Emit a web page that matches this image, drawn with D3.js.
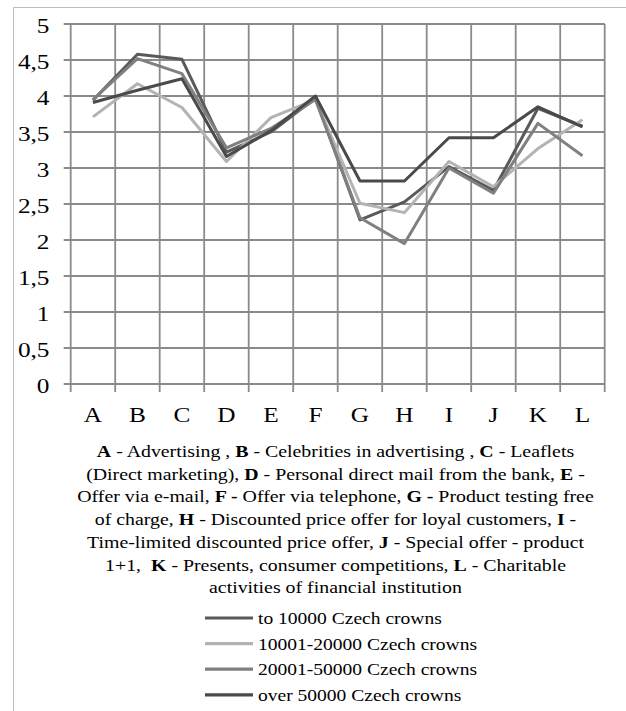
<!DOCTYPE html>
<html>
<head>
<meta charset="utf-8">
<script src="https://cdn.jsdelivr.net/npm/d3@7/dist/d3.min.js"></script>
<style>
  html, body { margin: 0; padding: 0; background: #fff; }
  svg { display: block; }
</style>
</head>
<body>
<script>
// ---- Data ----
const categories = ["A","B","C","D","E","F","G","H","I","J","K","L"];
const seriesNames = ["to 10000 Czech crowns","10001-20000 Czech crowns","20001-50000 Czech crowns","over 50000 Czech crowns"];
const to10000   = [3.94, 4.58, 4.51, 3.22, 3.50, 3.97, 2.28, 2.53, 3.02, 2.69, 3.83, 3.58];
const s10to20   = [3.71, 4.17, 3.84, 3.09, 3.70, 3.95, 2.51, 2.38, 3.09, 2.74, 3.27, 3.67];
const s20to50   = [3.95, 4.52, 4.31, 3.28, 3.55, 3.95, 2.31, 1.95, 3.00, 2.65, 3.62, 3.17];
const over50000 = [3.91, 4.08, 4.24, 3.16, 3.52, 4.00, 2.82, 2.82, 3.42, 3.42, 3.85, 3.57];
const yTicks = [0, 0.5, 1, 1.5, 2, 2.5, 3, 3.5, 4, 4.5, 5];
const captionLines = [
  [["A",1],[" - Advertising , ",0],["B",1],[" - Celebrities in advertising , ",0],["C",1],[" - Leaflets",0]],
  [["(Direct marketing), ",0],["D",1],[" - Personal direct mail from the bank, ",0],["E",1],[" -",0]],
  [["Offer via e-mail, ",0],["F -",1],[" Offer via telephone, ",0],["G -",1],[" Product testing free",0]],
  [["of charge, ",0],["H",1],[" - Discounted price offer for loyal customers, ",0],["I",1],[" -",0]],
  [["Time-limited discounted price offer, ",0],["J",1],[" - Special offer - product",0]],
  [["1+1,\u00a0 ",0],["K",1],[" - Presents, consumer competitions, ",0],["L",1],[" - Charitable",0]],
  [["activities of financial institution",0]]
];

const seriesValues = [to10000, s10to20, s20to50, over50000];
const colors = ["#5a5a5a", "#b3b3b3", "#808080", "#4a4a4a"];
const FONT = "'Liberation Serif', 'Times New Roman', serif";

const W = 626, H = 711;
const svg = d3.select("body").append("svg").attr("width", W).attr("height", H)
  .style("font-family", FONT);

// outer frame (top + left)
svg.append("line").attr("x1", 13.5).attr("x2", W).attr("y1", 7.5).attr("y2", 7.5)
  .attr("stroke", "#bdbdbd").attr("stroke-width", 1);
svg.append("line").attr("x1", 13.5).attr("x2", 13.5).attr("y1", 7.5).attr("y2", H)
  .attr("stroke", "#bdbdbd").attr("stroke-width", 1);

const pLeft = 70.7, pRight = 604.7, pTop = 24, pBottom = 384;
const x = d3.scaleBand().domain(categories).range([pLeft, pRight]).padding(0);
const y = d3.scaleLinear().domain([0, 5]).range([pBottom, pTop]);
const gridColor = "#8a8a8a";
const AXIS_SX = 1.15;

// horizontal gridlines (with short ticks left of the axis)
svg.append("g").selectAll("line").data(yTicks).join("line")
  .attr("x1", pLeft - 7).attr("x2", pRight)
  .attr("y1", d => y(d)).attr("y2", d => y(d))
  .attr("stroke", gridColor).attr("stroke-width", 1.8);

// vertical gridlines at category boundaries (+ ticks below axis)
const bounds = categories.map(c => x(c)).concat([pRight]);
svg.append("g").selectAll("line").data(bounds).join("line")
  .attr("x1", d => d).attr("x2", d => d)
  .attr("y1", pTop).attr("y2", pBottom + 8)
  .attr("stroke", gridColor).attr("stroke-width", 1.8);

// y labels
svg.append("g").selectAll("text").data(yTicks).join("text")
  .attr("transform", d => `translate(49.5,${y(d) + 8.5}) scale(${AXIS_SX},1)`)
  .attr("text-anchor", "end").attr("font-size", 22).attr("font-family", FONT)
  .text(d => String(d).replace(".", ","));

// x labels
svg.append("g").selectAll("text").data(categories).join("text")
  .attr("transform", d => `translate(${x(d) + x.bandwidth() / 2},421.5) scale(${AXIS_SX},1)`)
  .attr("text-anchor", "middle").attr("font-size", 22).attr("font-family", FONT)
  .text(d => d);

// series lines
const line = d3.line()
  .x((d, i) => x(categories[i]) + x.bandwidth() / 2)
  .y(d => y(d));
svg.append("g").selectAll("path").data(seriesValues).join("path")
  .attr("d", d => line(d))
  .attr("fill", "none")
  .attr("stroke", (d, i) => colors[i])
  .attr("stroke-width", 3)
  .attr("stroke-linejoin", "round");

// caption
const cap = svg.append("g");
const capTexts = captionLines.map((parts, li) => {
  const t = cap.append("text")
    .attr("text-anchor", "middle").attr("font-size", 17).attr("font-family", FONT)
    .datum(457 + li * 22.7);
  parts.forEach(p => {
    t.append("tspan").attr("font-weight", p[1] ? "bold" : "normal").text(p[0]);
  });
  return t;
});
const capW = capTexts[2].node().getComputedTextLength();
const capSx = capW > 0 ? 517 / capW : 1.16;
capTexts.forEach(t => t.attr("transform", d => `translate(335.5,${d}) scale(${capSx},1)`));

// legend
const leg = svg.append("g");
const legTexts = [];
seriesNames.forEach((name, i) => {
  const ly = 618 + i * 25.6;
  leg.append("line").attr("x1", 205).attr("x2", 253).attr("y1", ly).attr("y2", ly)
    .attr("stroke", colors[i]).attr("stroke-width", 3.2);
  legTexts.push(leg.append("text").datum(ly + 6).attr("font-size", 17.5)
    .attr("font-family", FONT).text(name));
});
const legW = legTexts[0].node().getComputedTextLength();
const legSx = legW > 0 ? 184 / legW : 1.12;
legTexts.forEach(t => t.attr("transform", d => `translate(258,${d}) scale(${legSx},1)`));
</script>
</body>
</html>
